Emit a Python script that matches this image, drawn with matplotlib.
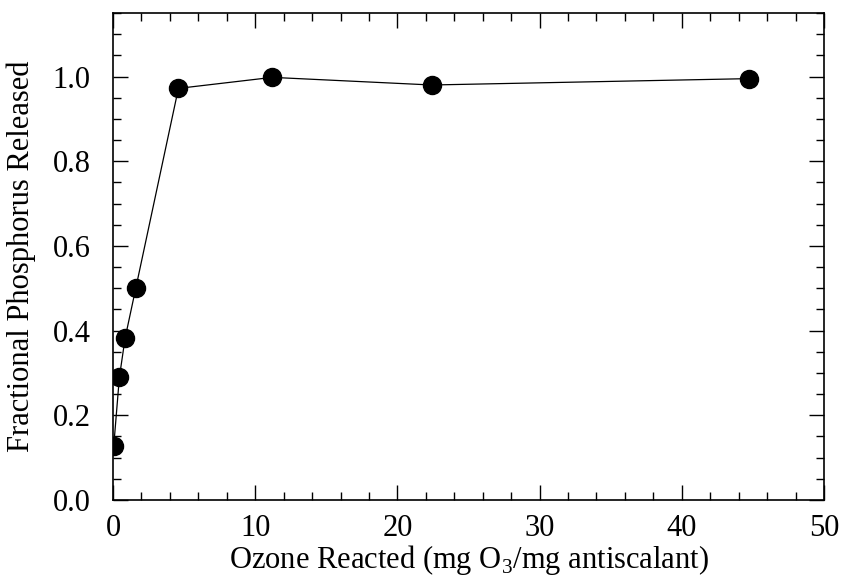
import matplotlib
matplotlib.use("Agg")
import matplotlib.pyplot as plt
from matplotlib.ticker import MultipleLocator

plt.rcParams['font.family'] = ['Liberation Serif', 'DejaVu Serif']
plt.rcParams['mathtext.fontset'] = 'custom'
plt.rcParams['mathtext.rm'] = 'Liberation Serif'

# Data
ozone_reacted = [0.05, 0.45, 0.85, 1.6, 4.6, 11.2, 22.4, 44.7]
phosphorus_released = [0.127, 0.29, 0.382, 0.50, 0.972, 0.998, 0.980, 0.995]

fig = plt.figure(figsize=(8.41, 5.86), dpi=100)
ax = fig.add_axes([113 / 841, 86 / 586, 711 / 841, 487 / 586])

ax.plot(ozone_reacted, phosphorus_released, color='black', linewidth=0.9,
        marker='o', markersize=13, markerfacecolor='black', markeredgecolor='black')

ax.set_xlim(0, 50)
ax.set_ylim(0, 1.15)
ax.xaxis.set_major_locator(MultipleLocator(10))
ax.xaxis.set_minor_locator(MultipleLocator(2))
ax.yaxis.set_major_locator(MultipleLocator(0.2))
ax.yaxis.set_minor_locator(MultipleLocator(0.05))
ax.yaxis.set_major_formatter(plt.FuncFormatter(lambda v, p: f"{v:.1f}"))

ax.tick_params(which='both', direction='in', top=True, right=True, width=1, labelsize=22)
ax.tick_params(which='major', length=11)
ax.tick_params(which='minor', length=6)
ax.tick_params(axis='x', which='major', pad=10)
ax.tick_params(axis='y', which='major', pad=16)
for s in ax.spines.values():
    s.set_linewidth(1.2)

ax.set_xlabel(r'Ozone Reacted (mg O$_3$/mg antiscalant)', fontsize=22, labelpad=0)
ax.set_ylabel('Fractional Phosphorus Released', fontsize=22, labelpad=12)

fig.savefig('out.png', dpi=100)
